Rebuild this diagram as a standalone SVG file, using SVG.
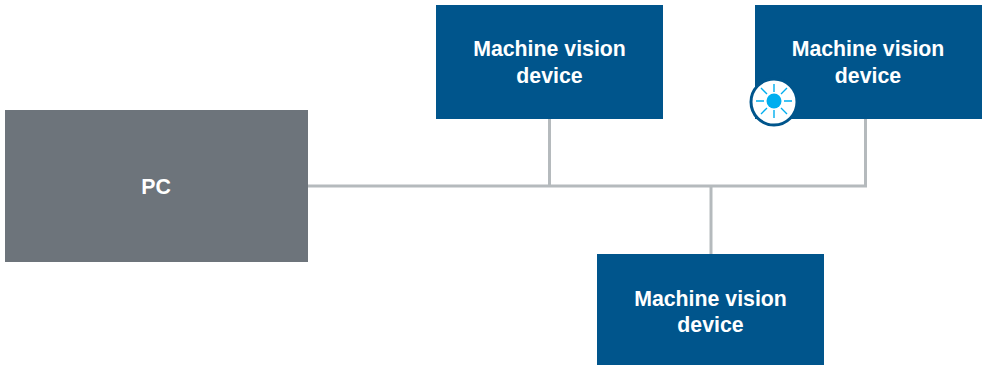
<svg xmlns="http://www.w3.org/2000/svg" width="983" height="365" viewBox="0 0 983 365">
<style>
.dev{fill:#00558c}
.pc{fill:#6d747b}
.t{font-family:"Liberation Sans",Arial,sans-serif;font-size:21.300px;font-weight:700;fill:#fff;text-anchor:middle}
.c{fill:none;stroke:#b5babd;stroke-width:3}
.ray{stroke:#00aeef;stroke-width:1.400;fill:none}
</style>
<rect width="983" height="365" fill="#fff"/>
<g id="connectors">
<path class="c" d="M308 186H865.500V119"/>
<path class="c" d="M549.500 119V186"/>
<path class="c" d="M711 186V254"/>
</g>
<g id="pc"><rect class="pc" x="5" y="110" width="303" height="152"/><text class="t" x="156" y="194">PC</text></g>
<g id="device-1"><rect class="dev" x="436" y="5" width="227" height="114"/><text class="t" x="549.500" y="56">Machine vision</text><text class="t" x="549.500" y="83">device</text></g>
<g id="device-2"><rect class="dev" x="755" y="5" width="227" height="114"/><text class="t" x="868" y="56">Machine vision</text><text class="t" x="868" y="83">device</text></g>
<g id="device-3"><rect class="dev" x="597" y="254" width="227" height="111"/><text class="t" x="710.500" y="306">Machine vision</text><text class="t" x="710.500" y="332">device</text></g>
<g id="indicator">
<circle cx="774" cy="102" r="23" fill="#fff" stroke="#00558c" stroke-width="3"/>
<circle cx="774" cy="101" r="7.500" fill="#00aeef"/>
<path class="ray" d="M774 84V92M774 110V118M756 101H764M784 101H792M761 88L767 94M781 108L787 114M787 88L781 94M767 108L761 114"/>
</g>
</svg>
